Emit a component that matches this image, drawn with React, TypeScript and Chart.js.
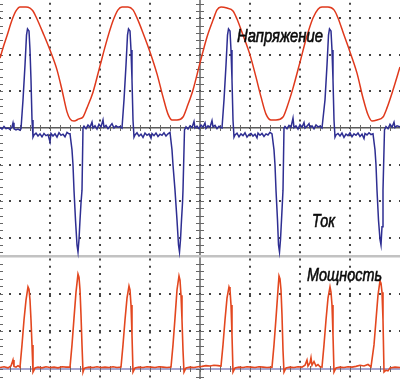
import React, { useEffect, useRef } from 'react';
import { Chart, registerables } from 'chart.js';

Chart.register(...registerables);

// ---- axes (time in ms, 10 ms per division; amplitudes in screen divisions)
const TIME_RANGE = [0, 80];
const TIME_GRID = [10, 20, 30, 40, 50, 60, 70];
const UI_RANGE = [-6.864, 3.5]; // upper panel: voltage & current
const UI_GRID = [-3, -2, -1, 0, 1, 2, 3];
const P_RANGE = [-0.265, 9.796]; // lower panel: power
const P_GRID = [0, 1, 2, 3];

const SERIES_NAMES = ['Напряжение', 'Ток', 'Мощность'];

// ---- series [time ms, divisions]
const VOLTAGE: [number, number][] = [
  [0, 1.91], [0.6, 2.19], [1.4, 2.52], [2.4, 2.95], [3.2, 3.2], [4, 3.31], [5.2, 3.31], [6, 3.28], [6.6, 3.2],
  [7.4, 2.98], [8.6, 2.6], [10, 2.13], [11.4, 1.59], [12.4, 1.04], [13.4, 0.44], [14, 0.25], [14.8, 0.19],
  [15.8, 0.25], [16.6, 0.3], [17.4, 0.55], [18.6, 0.98], [20, 1.7], [21.4, 2.41], [22.6, 2.93], [23.6, 3.23],
  [24.4, 3.31], [25.6, 3.31], [26.6, 3.23], [27.4, 3.01], [28.6, 2.6], [30, 2.08], [31.4, 1.48], [32.6, 0.85],
  [33.6, 0.38], [34.4, 0.22], [35.4, 0.22], [36.6, 0.3], [37.4, 0.57], [38.6, 1.04], [40, 1.78], [41.4, 2.49],
  [42.6, 2.95], [43.4, 3.23], [44.2, 3.31], [45.4, 3.28], [46.6, 3.2], [47.4, 2.98], [48.6, 2.54], [50, 2.0],
  [51.2, 1.39], [52.2, 0.85], [53.2, 0.38], [54.2, 0.22], [55.2, 0.22], [56.6, 0.3], [57.4, 0.57], [58.6, 1.09],
  [60, 1.8], [61.4, 2.52], [62.6, 3.01], [63.6, 3.25], [64.4, 3.31], [65.6, 3.31], [66.8, 3.23], [67.6, 3.01],
  [68.8, 2.54], [70, 2.08], [71.4, 1.5], [72.6, 0.82], [73.6, 0.36], [74.4, 0.19], [75.4, 0.22], [76.6, 0.3],
  [77.4, 0.55], [78.6, 1.04], [80, 1.67],
];

const CURRENT: [number, number][] = [
  [0, 0.02], [0.4, -0.03], [0.8, 0.04], [1.2, -0.02], [1.6, 0.0], [2.0, -0.04], [2.4, 0.03], [2.6, 0.14],
  [2.8, -0.02], [3.2, -0.05], [3.6, -0.03], [4.0, -0.06], [4.2, -0.02], [4.6, 0.77], [5.0, 1.72], [5.3, 2.54],
  [5.5, 2.71], [5.8, 2.65], [6.0, 2.13], [6.2, 1.31], [6.4, 0.22], [6.6, -0.25], [6.8, -0.19], [7.2, -0.14],
  [7.6, -0.22], [8.0, -0.16], [8.4, -0.24], [8.8, -0.15], [9.2, -0.21], [9.6, -0.18], [10.0, -0.38], [10.2, -0.15],
  [10.6, -0.22], [11.0, -0.16], [11.4, -0.25], [11.8, -0.13], [12.2, -0.2], [12.6, -0.17], [13.0, -0.24],
  [13.4, -0.12], [13.8, -0.16], [14.0, -0.16], [14.4, -0.6], [14.6, -1.01], [14.8, -1.7], [15.1, -2.52],
  [15.4, -3.2], [15.6, -3.39], [15.8, -3.05], [16.0, -2.52], [16.2, -2.05], [16.4, -1.7], [16.6, 0.0],
  [16.8, 0.05], [17.2, -0.02], [17.6, 0.08], [18.0, 0.02], [18.4, 0.16], [18.6, 0.0], [19.0, 0.06], [19.4, -0.03],
  [19.8, 0.1], [20.2, 0.03], [20.6, 0.22], [20.8, 0.02], [21.2, 0.07], [21.6, -0.02], [22.0, 0.05], [22.4, 0.12],
  [22.8, 0.0], [23.2, 0.06], [23.6, 0.02], [24.0, 0.04],
  [24.4, 0.0], [24.8, 0.77], [25.2, 1.72], [25.5, 2.54], [25.7, 2.71], [26.0, 2.65], [26.2, 2.13], [26.4, 1.31],
  [26.6, 0.22], [26.8, -0.25], [27.0, -0.19], [27.4, -0.13], [27.8, -0.22], [28.2, -0.17], [28.6, -0.26],
  [29.0, -0.14], [29.4, -0.2], [29.8, -0.16], [30.2, -0.28], [30.4, -0.15], [30.8, -0.21], [31.2, -0.14],
  [31.6, -0.23], [32.0, -0.17], [32.4, -0.2], [32.8, -0.13], [33.2, -0.22], [33.6, -0.16], [34.0, -0.12],
  [34.4, -0.6], [34.6, -1.01], [35.0, -1.7], [35.4, -2.52], [35.7, -3.2], [35.9, -3.39], [36.1, -3.05],
  [36.3, -2.52], [36.5, -2.05], [36.6, -1.7], [36.9, -0.05], [37.2, 0.03], [37.6, -0.03], [38.0, 0.06],
  [38.4, 0.01], [38.8, 0.18], [39.0, 0.0], [39.4, 0.05], [39.8, -0.02], [40.2, 0.08], [40.6, 0.02], [41.0, 0.14],
  [41.2, -0.01], [41.6, 0.06], [42.0, 0.02], [42.4, 0.2], [42.6, 0.03], [43.0, 0.07], [43.4, -0.02], [43.8, 0.05],
  [44.2, 0.01],
  [44.4, 0.0], [44.8, 0.77], [45.2, 1.72], [45.5, 2.54], [45.7, 2.71], [46.0, 2.65], [46.2, 2.13], [46.4, 1.31],
  [46.6, 0.22], [46.8, -0.25], [47.0, -0.19], [47.4, -0.14], [47.8, -0.24], [48.2, -0.16], [48.6, -0.21],
  [49.0, -0.13], [49.4, -0.25], [49.8, -0.18], [50.2, -0.15], [50.6, -0.22], [51.0, -0.17], [51.4, -0.27],
  [51.6, -0.14], [52.0, -0.2], [52.4, -0.15], [52.8, -0.23], [53.2, -0.16], [53.6, -0.19], [54.0, -0.12],
  [54.4, -0.16], [54.8, -0.6], [55.0, -1.01], [55.2, -1.7], [55.5, -2.52], [55.7, -3.2], [55.9, -3.39],
  [56.1, -3.05], [56.3, -2.52], [56.6, -1.7], [56.8, 0.0], [57.0, 0.04], [57.4, -0.02], [57.8, 0.07],
  [58.2, 0.02], [58.6, 0.27], [58.8, 0.01], [59.2, 0.06], [59.6, -0.03], [60.0, 0.09], [60.4, 0.02], [60.8, 0.15],
  [61.0, 0.0], [61.4, 0.05], [61.8, 0.12], [62.0, 0.01], [62.4, 0.06], [62.8, -0.02], [63.2, 0.08], [63.6, 0.03],
  [64.0, 0.05], [64.4, 0.0],
  [64.6, 0.0], [65.0, 0.77], [65.4, 1.72], [65.7, 2.54], [65.9, 2.71], [66.2, 2.65], [66.4, 2.13], [66.6, 1.31],
  [66.8, 0.22], [67.0, -0.25], [67.2, -0.19], [67.6, -0.15], [68.0, -0.22], [68.4, -0.14], [68.8, -0.26],
  [69.2, -0.17], [69.6, -0.21], [70.0, -0.13], [70.4, -0.24], [70.8, -0.16], [71.2, -0.2], [71.6, -0.14],
  [72.0, -0.23], [72.4, -0.17], [72.8, -0.29], [73.0, -0.15], [73.4, -0.19], [73.8, -0.13], [74.2, -0.18],
  [74.6, -0.16], [75.0, -0.6], [75.2, -1.01], [75.4, -1.7], [75.7, -2.52], [76.0, -3.05], [76.2, -3.2],
  [76.4, -2.7], [76.6, -1.7], [76.9, -0.05], [77.2, 0.04], [77.6, -0.02], [78.0, 0.1], [78.4, 0.02], [78.8, 0.16],
  [79.0, 0.01], [79.4, 0.06], [80.0, 0.03],
];

const POWER: [number, number][] = [
  [0, 0.04], [0.8, 0.06], [1.6, 0.03], [2.2, 0.08], [2.6, 0.24], [2.8, 0.07], [3.2, 0.05], [3.6, 0.09], [4.0, 0.05],
  [4.4, 0.64], [4.8, 1.3], [5.2, 1.83], [5.6, 2.18], [5.8, 2.12], [6.0, 1.83], [6.2, 1.3], [6.4, 0.64], [6.6, -0.08],
  [6.8, -0.03], [7.0, 0.03], [7.6, 0.05], [8.4, 0.03], [9.2, 0.06], [10.0, 0.04], [10.8, 0.05], [11.6, 0.03],
  [12.4, 0.06], [13.2, 0.05], [14.0, 0.05],
  [14.4, 0.64], [14.8, 1.35], [15.2, 2.04], [15.6, 2.52], [15.8, 2.44], [16.0, 2.1], [16.2, 1.43], [16.4, 0.64],
  [16.6, -0.08], [16.8, 0.0], [17.0, 0.03], [17.8, 0.05], [18.6, 0.04], [19.4, 0.06], [20.2, 0.04], [21.0, 0.05],
  [21.8, 0.04], [22.6, 0.06], [23.4, 0.04], [24.2, 0.05],
  [24.6, 0.64], [25.0, 1.3], [25.4, 1.88], [25.8, 2.2], [26.0, 2.1], [26.2, 1.7], [26.4, 0.9], [26.6, -0.08],
  [27.0, 0.03], [27.8, 0.05], [28.6, 0.04], [29.4, 0.06], [30.2, 0.05], [31.0, 0.04], [31.8, 0.06], [32.6, 0.05],
  [33.4, 0.04], [34.2, 0.05],
  [34.6, 0.64], [35.0, 1.35], [35.4, 2.1], [35.8, 2.47], [36.0, 2.36], [36.2, 1.96], [36.4, 1.3], [36.6, 0.5],
  [36.8, -0.08], [37.2, 0.03], [38.0, 0.05], [38.8, 0.04], [39.6, 0.06], [40.4, 0.07], [41.2, 0.09], [42.0, 0.08],
  [42.8, 0.1], [43.6, 0.09], [44.2, 0.08],
  [44.6, 0.64], [45.0, 1.3], [45.4, 1.88], [45.8, 2.18], [46.0, 2.1], [46.2, 1.7], [46.4, 0.9], [46.6, -0.08],
  [47.0, 0.03], [47.8, 0.05], [48.6, 0.04], [49.4, 0.06], [50.2, 0.05], [51.0, 0.04], [51.8, 0.06], [52.6, 0.05],
  [53.4, 0.04], [54.4, 0.05],
  [54.8, 0.64], [55.2, 1.35], [55.6, 2.1], [55.8, 2.47], [56.0, 2.39], [56.2, 2.1], [56.4, 1.43], [56.6, 0.5],
  [56.8, -0.08], [57.2, 0.03], [58.0, 0.05], [58.8, 0.04], [59.6, 0.06], [60.4, 0.05], [61.0, 0.1], [61.4, 0.24],
  [61.6, 0.08], [62.0, 0.16], [62.2, 0.3], [62.4, 0.1], [62.8, 0.2], [63.2, 0.08], [63.6, 0.12], [64.0, 0.06],
  [64.4, 0.05],
  [64.8, 0.64], [65.2, 1.3], [65.6, 1.88], [66.0, 2.18], [66.2, 2.04], [66.4, 1.7], [66.6, 0.9], [66.8, -0.08],
  [67.2, 0.03], [68.0, 0.05], [68.8, 0.04], [69.6, 0.06], [70.4, 0.05], [71.2, 0.07], [72.0, 0.1], [72.8, 0.08],
  [73.6, 0.12], [74.2, 0.06],
  [74.8, 0.64], [75.2, 1.3], [75.6, 1.96], [76.0, 2.34], [76.2, 2.28], [76.4, 2.04], [76.6, 1.3], [76.8, -0.08],
  [77.2, -0.03], [77.6, -0.05], [78.0, 0.03], [79.0, 0.05], [80.0, 0.04],
];

// ---- text annotations placed through the scales
const LABELS = [
  { text: SERIES_NAMES[0], t: 47.4, v: 2.35, axis: 'y', width: 86 },
  { text: SERIES_NAMES[1], t: 62.4, v: -2.71, axis: 'y', width: 23 },
  { text: SERIES_NAMES[2], t: 61.4, v: 2.34, axis: 'y2', width: 75 },
];

const FONT = 'italic 19px "Liberation Sans", Arial, sans-serif';

const DOT_COLOR = '#444';

const scopeMarks = {
  id: 'scopeMarks',
  beforeDatasetsDraw(chart: any) {
    const { ctx, scales } = chart;
    const x = scales.x, y = scales.y, y2 = scales.y2;
    ctx.save();
    ctx.strokeStyle = '#666';
    ctx.lineWidth = 1;
    ctx.beginPath();
    const cx = x.getPixelForValue(40);
    const lx = x.getPixelForValue(TIME_RANGE[0]);
    const ys: number[] = [];
    for (let k = -17; k <= 17; k++) ys.push(y.getPixelForValue(k * 0.2));
    for (let k = -1; k <= 14; k++) ys.push(y2.getPixelForValue(k * 0.2));
    for (const py of ys) {
      const p = Math.round(py) + 0.5;
      ctx.moveTo(cx - 4, p); ctx.lineTo(cx + 4, p);
      ctx.moveTo(lx, p); ctx.lineTo(lx + 3, p);
    }
    const zy = Math.round(y.getPixelForValue(0));
    const by = Math.round(y2.getPixelForValue(0));
    for (let k = 1; k < 40; k++) {
      const px = Math.round(x.getPixelForValue(k * 2)) + 0.5;
      ctx.moveTo(px, zy - 3); ctx.lineTo(px, zy + 3);
      ctx.moveTo(px, by - 3); ctx.lineTo(px, by + 3);
    }
    ctx.stroke();
    ctx.restore();
  },
  afterDatasetsDraw(chart: any) {
    const { ctx, scales } = chart;
    ctx.save();
    ctx.font = FONT;
    ctx.fillStyle = '#0a0a0a';
    ctx.strokeStyle = '#0a0a0a';
    ctx.lineWidth = 0.6;
    ctx.textBaseline = 'alphabetic';
    ctx.textAlign = 'left';
    for (const l of LABELS) {
      const px = scales.x.getPixelForValue(l.t);
      const py = scales[l.axis].getPixelForValue(l.v);
      const w = ctx.measureText(l.text).width;
      const sx = w > 0 ? l.width / w : 1;
      ctx.save();
      ctx.translate(px, py);
      ctx.scale(sx, 1);
      ctx.fillText(l.text, 0, 0);
      ctx.strokeText(l.text, 0, 0);
      ctx.restore();
    }
    ctx.restore();
  },
};

const tickVal = (c: any) => (c && c.tick ? c.tick.value : NaN);

export default function App() {
  const ref = useRef<HTMLCanvasElement | null>(null);
  useEffect(() => {
    document.body.style.margin = '0';
    const canvas = ref.current;
    if (!canvas) return;
    const toXY = (arr: [number, number][]) => arr.map(([t, v]) => ({ x: t, y: v }));
    const chart = new Chart(canvas, {
      type: 'line',
      data: {
        datasets: [
          { label: SERIES_NAMES[2], data: toXY(POWER), yAxisID: 'y2', borderColor: '#e3471f', borderWidth: 1.6, pointRadius: 0, tension: 0, fill: false },
          { label: SERIES_NAMES[1], data: toXY(CURRENT), yAxisID: 'y', borderColor: '#2e2e92', borderWidth: 1.5, pointRadius: 0, tension: 0, fill: false },
          { label: SERIES_NAMES[0], data: toXY(VOLTAGE), yAxisID: 'y', borderColor: '#e0391c', borderWidth: 1.5, pointRadius: 0, cubicInterpolationMode: 'monotone', fill: false },
        ],
      },
      options: {
        responsive: false,
        maintainAspectRatio: false,
        animation: false,
        devicePixelRatio: 1,
        layout: { padding: 0 },
        plugins: { legend: { display: false }, tooltip: { enabled: false } },
        scales: {
          x: {
            type: 'linear',
            min: TIME_RANGE[0],
            max: TIME_RANGE[1],
            afterBuildTicks: (s: any) => { s.ticks = TIME_GRID.map((v) => ({ value: v })); },
            ticks: { display: false },
            border: {
              display: false,
              dash: (c: any) => (tickVal(c) === 40 ? [] : [2, 5.31]),
              dashOffset: 4.66,
            },
            grid: {
              drawTicks: false,
              color: (c: any) => (tickVal(c) === 40 ? '#8a8a8a' : DOT_COLOR),
              lineWidth: 2,
            },
          },
          y: {
            type: 'linear',
            position: 'left',
            min: UI_RANGE[0],
            max: UI_RANGE[1],
            afterBuildTicks: (s: any) => { s.ticks = UI_GRID.map((v) => ({ value: v })); },
            ticks: { display: false },
            border: {
              display: false,
              dash: (c: any) => (tickVal(c) === 0 ? [] : [2, 8]),
              dashOffset: 1,
            },
            grid: {
              drawTicks: false,
              color: (c: any) => (tickVal(c) === 0 ? '#5a5a5a' : DOT_COLOR),
              lineWidth: (c: any) => (tickVal(c) === 0 ? 1.5 : 2),
            },
          },
          y2: {
            type: 'linear',
            position: 'left',
            min: P_RANGE[0],
            max: P_RANGE[1],
            afterBuildTicks: (s: any) => { s.ticks = P_GRID.map((v) => ({ value: v })); },
            ticks: { display: false },
            border: {
              display: false,
              dash: (c: any) => (tickVal(c) === 0 || tickVal(c) === 3 ? [] : [2, 8]),
              dashOffset: 1,
            },
            grid: {
              drawTicks: false,
              color: (c: any) => (tickVal(c) === 0 ? '#a6a6cf' : tickVal(c) === 3 ? '#c2c2c2' : DOT_COLOR),
              lineWidth: (c: any) => (tickVal(c) === 3 ? 2.5 : 2),
            },
          },
        },
      },
      plugins: [scopeMarks],
    } as any);
    return () => chart.destroy();
  }, []);
  return (
    <div style={{ position: 'absolute', left: 0, top: 0, width: 400, height: 379, background: '#fff' }}>
      <canvas ref={ref} width={400} height={379} style={{ display: 'block' }} />
    </div>
  );
}
